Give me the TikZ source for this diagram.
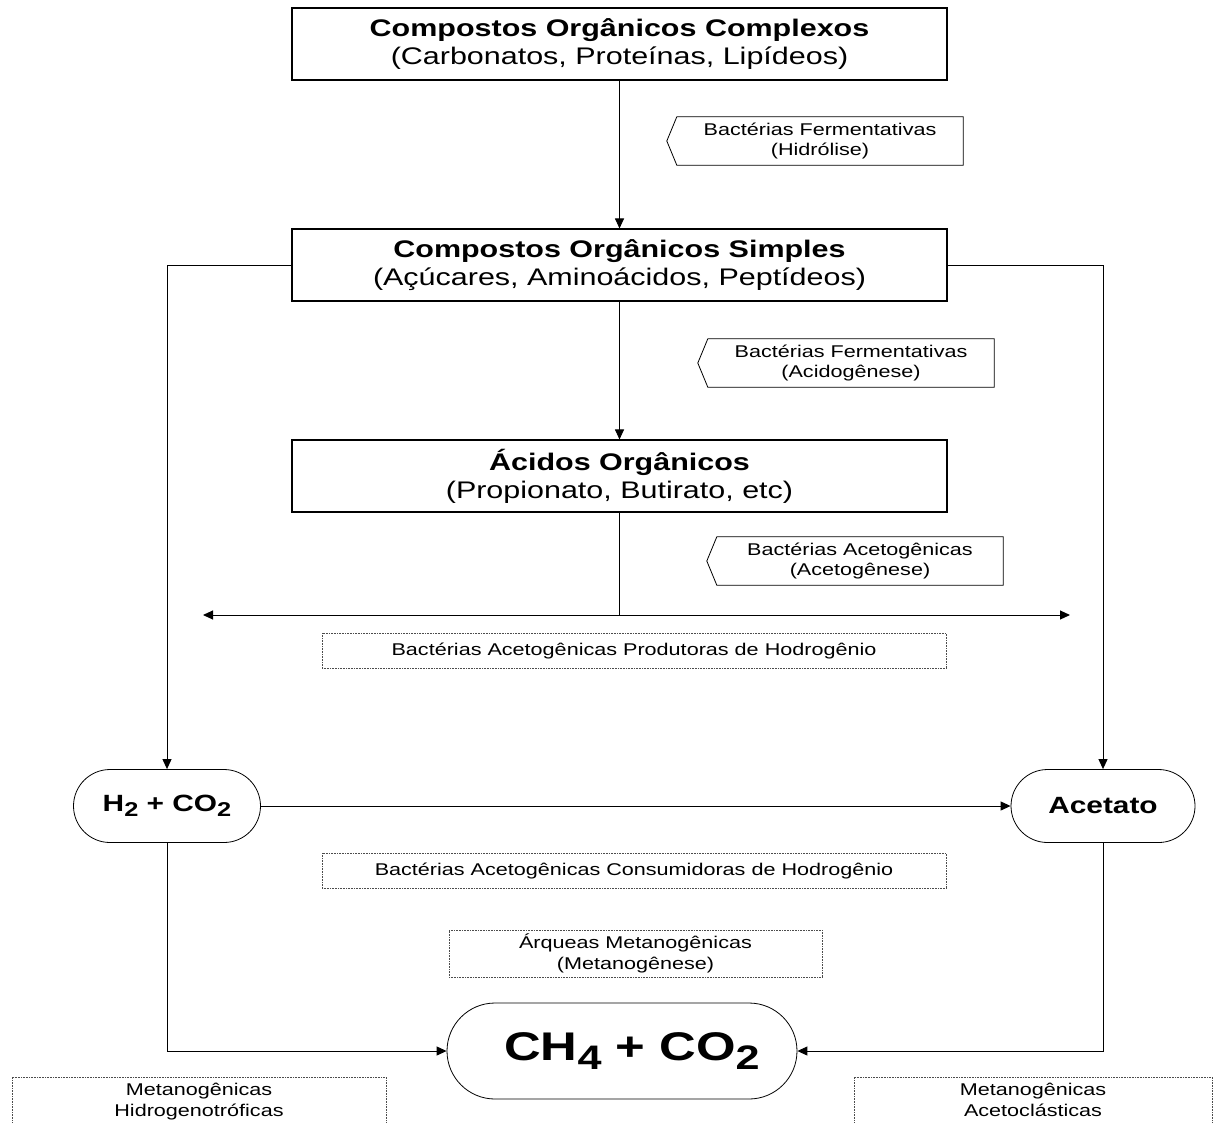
\documentclass[tikz,border=0pt]{standalone}
\usepackage{fontspec}
\setmainfont[FakeStretch=1.27]{Liberation Sans}
\usetikzlibrary{arrows.meta,shapes.misc}
\newcommand{\mysub}[1]{\raisebox{-0.22em}{\scalebox{0.85}{#1}}}
\begin{document}
\begin{tikzpicture}[x=1pt,y=-1pt,
  every node/.style={inner sep=0pt},
  box/.style={draw, line width=1.1pt, minimum width=655pt, minimum height=72pt, align=center, font=\fontsize{24}{28}\selectfont},
  lbl/.style={minimum width=286pt, minimum height=48pt, align=center, font=\fontsize{17}{20.5}\selectfont},
  lblshape/.style={draw, line width=0.8pt},
  dbox/.style={draw=black!70, dash pattern=on 0.8pt off 0.8pt, line width=0.8pt, align=center, font=\fontsize{17}{20.5}\selectfont},
  pill/.style={draw, rounded rectangle, line width=0.8pt, font=\bfseries\fontsize{23.5}{28}\selectfont},
  arr/.style={-{Triangle[length=10pt,width=9pt]}, line width=1pt},
  conn/.style={line width=1pt}]
\useasboundingbox (0,0) rectangle (1215,1122);

% main boxes
\node[box] (b1) at (619.5,44) {\textbf{Compostos Orgânicos Complexos}\\(Carbonatos, Proteínas, Lipídeos)};
\node[box] (b2) at (619.5,265) {\textbf{Compostos Orgânicos Simples}\\(Açúcares, Aminoácidos, Peptídeos)};
\node[box] (b3) at (619.5,476) {\textbf{Ácidos Orgânicos}\\(Propionato, Butirato, etc)};

% process labels
\node[lbl] (l1) at (820,141) {Bactérias Fermentativas\\(Hidrólise)};
\node[lbl] (l2) at (851,363) {Bactérias Fermentativas\\(Acidogênese)};
\node[lbl] (l3) at (860,561) {Bactérias Acetogênicas\\(Acetogênese)};
\foreach \n in {l1,l2,l3}{
  \draw[lblshape] (\n.north west) -- (\n.north east) -- (\n.south east) -- (\n.south west) -- ([xshift=-10pt]\n.west) -- cycle;
}

% dotted labels
\node[dbox, minimum width=624pt, minimum height=35pt] (d1) at (634,650.5) {Bactérias Acetogênicas Produtoras de Hodrogênio};
\node[dbox, minimum width=624pt, minimum height=35pt] (d2) at (634,870.5) {Bactérias Acetogênicas Consumidoras de Hodrogênio};
\node[dbox, minimum width=373pt, minimum height=47pt] (d3) at (635.5,953.5) {Árqueas Metanogênicas\\(Metanogênese)};

% pills
\node[pill, minimum width=187pt, minimum height=73pt] (h2) at (167,806) {H\mysub{2} + CO\mysub{2}};
\node[pill, minimum width=184pt, minimum height=73pt] (ac) at (1103,806) {Acetato};
\node[pill, minimum width=350pt, minimum height=96pt, font=\bfseries\fontsize{40}{44}\selectfont] (ch4) at (622,1051) {\hspace*{20pt}CH\mysub{4} + CO\mysub{2}};

% connectors
\draw[arr] (b1.south) -- (b2.north);
\draw[arr] (b2.south) -- (b3.north);
\coordinate (split) at (619.5,615);
\coordinate (hl) at (203,615);
\coordinate (hr) at (1070,615);
\draw[conn] (b3.south) -- (split);
\draw[arr] (split) -- (hl);
\draw[arr] (split) -- (hr);
\draw[arr] (b2.west) -| (h2.north);
\draw[arr] (b2.east) -| (ac.north);
\draw[arr] (h2.east) -- (ac.west);
\draw[arr] (h2.south) |- (ch4.west);
\draw[arr] (ac.south) |- (ch4.east);

% bottom boxes (cut off by the page edge)
\draw[draw=black!70, dash pattern=on 0.8pt off 0.8pt, line width=0.8pt] (12,1140) -- (12,1077) -- (386,1077) -- (386,1140);
\draw[draw=black!70, dash pattern=on 0.8pt off 0.8pt, line width=0.8pt] (854,1140) -- (854,1077) -- (1212,1077) -- (1212,1140);
\node[lbl, minimum height=0pt, anchor=north] (m1) at (199,1083) {Metanogênicas\\Hidrogenotróficas};
\node[lbl, minimum height=0pt, anchor=north] (m2) at (1033,1083) {Metanogênicas\\Acetoclásticas};
\end{tikzpicture}
\end{document}
